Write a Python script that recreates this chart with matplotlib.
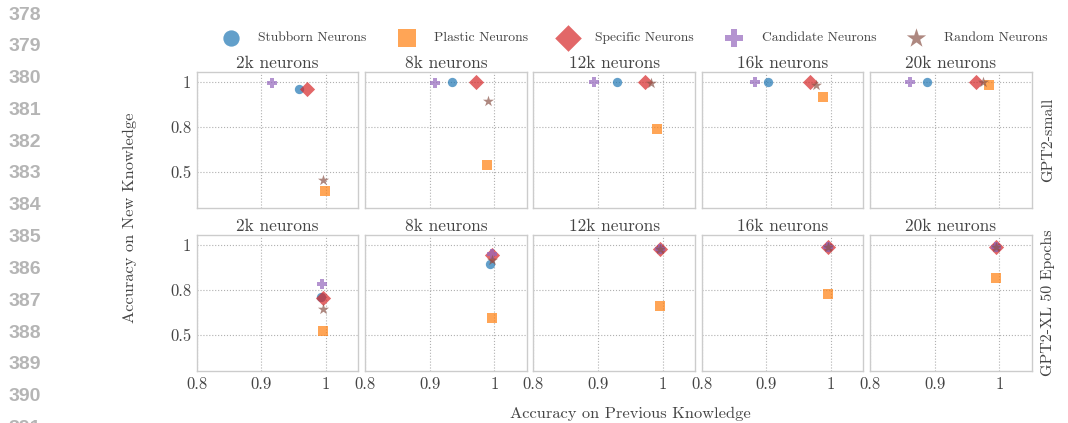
import numpy as np
import matplotlib
matplotlib.use("Agg")
import matplotlib.pyplot as plt

# neurons per panel (columns) and models (rows)
neurons = ["2k", "8k", "12k", "16k", "20k"]
models = ["GPT2-small", "GPT2-XL 50 Epochs"]
groups = ["Stubborn Neurons", "Plastic Neurons", "Specific Neurons",
          "Candidate Neurons", "Random Neurons"]

# accuracy on previous knowledge (x) / new knowledge (y), one list per group
# GPT2-small
small_x = {
    "Stubborn Neurons":  [0.959, 0.934, 0.929, 0.902, 0.888],
    "Plastic Neurons":   [0.998, 0.989, 0.992, 0.988, 0.984],
    "Specific Neurons":  [0.971, 0.972, 0.972, 0.967, 0.964],
    "Candidate Neurons": [0.917, 0.909, 0.894, 0.883, 0.861],
    "Random Neurons":    [0.996, 0.990, 0.982, 0.976, 0.975],
}
small_y = {
    "Stubborn Neurons":  [0.966, 0.997, 0.999, 0.997, 0.999],
    "Plastic Neurons":   [0.370, 0.542, 0.785, 0.933, 0.985],
    "Specific Neurons":  [0.969, 0.998, 1.000, 1.000, 1.000],
    "Candidate Neurons": [0.994, 0.996, 0.997, 0.997, 0.997],
    "Random Neurons":    [0.447, 0.914, 0.993, 0.987, 0.997],
}
# GPT2-XL 50 epochs
xl_x = {
    "Stubborn Neurons":  [0.992, 0.994, 0.996, 0.995, 0.995],
    "Plastic Neurons":   [0.996, 0.996, 0.996, 0.996, 0.995],
    "Specific Neurons":  [0.996, 0.996, 0.996, 0.995, 0.995],
    "Candidate Neurons": [0.994, 0.996, 0.996, 0.995, 0.995],
    "Random Neurons":    [0.996, 0.996, 0.996, 0.995, 0.995],
}
xl_y = {
    "Stubborn Neurons":  [0.750, 0.916, 0.980, 0.990, 0.992],
    "Plastic Neurons":   [0.524, 0.611, 0.692, 0.774, 0.850],
    "Specific Neurons":  [0.745, 0.956, 0.982, 0.990, 0.992],
    "Candidate Neurons": [0.825, 0.960, 0.982, 0.990, 0.992],
    "Random Neurons":    [0.672, 0.931, 0.980, 0.989, 0.991],
}

colors = ["tab:blue", "tab:orange", "tab:red", "tab:purple", "tab:brown"]
markers = ["o", "s", "D", "P", "*"]
sizes = [45, 55, 60, 55, 70]

line_numbers = list(range(378, 392))


# y axis: 0.5 / 0.8 / 1 ticks equally spaced
def fwd(y):
    y = np.asarray(y, dtype=float)
    return np.where(y < 0.8, (y - 0.5) / 0.3, 1 + (y - 0.8) / 0.2)


def inv(p):
    p = np.asarray(p, dtype=float)
    return np.where(p < 1, 0.5 + 0.3 * p, 0.8 + 0.2 * (p - 1))


plt.rcParams["font.family"] = ["cmr10", "DejaVu Serif"]
plt.rcParams["axes.formatter.use_mathtext"] = True
txt = "#444444"

fig, axes = plt.subplots(2, 5, figsize=(10.68, 4.23), dpi=100,
                         sharex=True, sharey=True)
fig.subplots_adjust(left=0.1842, right=0.966, top=0.829, bottom=0.1229,
                    wspace=0.043, hspace=0.2)

data = [(small_x, small_y), (xl_x, xl_y)]
for r in range(2):
    dx, dy = data[r]
    for c in range(5):
        ax = axes[r, c]
        for g, col, m, s in zip(groups, colors, markers, sizes):
            ax.scatter(dx[g][c], dy[g][c], color=col, marker=m, s=s,
                       alpha=0.7, linewidths=0, label=g, zorder=3)
        ax.set_title(neurons[c] + " neurons", fontsize=12.5, color=txt, pad=3)
        ax.grid(True, linestyle=":", color="#b0b0b0", linewidth=0.8)
        ax.tick_params(length=0, labelsize=12, colors=txt, pad=4)
        for sp in ax.spines.values():
            sp.set_color("#cccccc")
            sp.set_linewidth(1.0)

ax0 = axes[0, 0]
ax0.set_yscale("function", functions=(fwd, inv))
ax0.set_yticks([0.5, 0.8, 1.0])
ax0.set_yticklabels(["0.5", "0.8", "1"])
ax0.set_ylim(0.258, 1.042)
ax0.set_xlim(0.8, 1.05)
ax0.set_xticks([0.8, 0.9, 1.0])
ax0.set_xticklabels(["0.8", "0.9", "1"])

for r in range(2):
    axes[r, 4].text(1.1, 0.5, models[r], transform=axes[r, 4].transAxes,
                    rotation=90, va="center", ha="center", fontsize=11.5,
                    color=txt)

handles, labels = ax0.get_legend_handles_labels()
fig.legend(handles, labels, loc="center", bbox_to_anchor=(0.592, 0.91),
           ncol=5, frameon=False, fontsize=9.8, markerscale=1.75,
           columnspacing=1.95, handletextpad=1.0, labelcolor=txt)

fig.text(0.122, 0.486, "Accuracy on New Knowledge", rotation=90,
         ha="center", va="center", fontsize=11.8, color=txt)
fig.text(0.59, 0.022, "Accuracy on Previous Knowledge",
         ha="center", va="center", fontsize=11.8, color=txt)

# line numbers of the page
for i, n in enumerate(line_numbers):
    fig.text(9 / 1068, 1 - (15 + 31.8 * i) / 423, str(n), ha="left",
             va="center", fontsize=14, fontweight="bold", color="#b5b5b5",
             family="Liberation Sans")

fig.savefig("out.png", dpi=100)
